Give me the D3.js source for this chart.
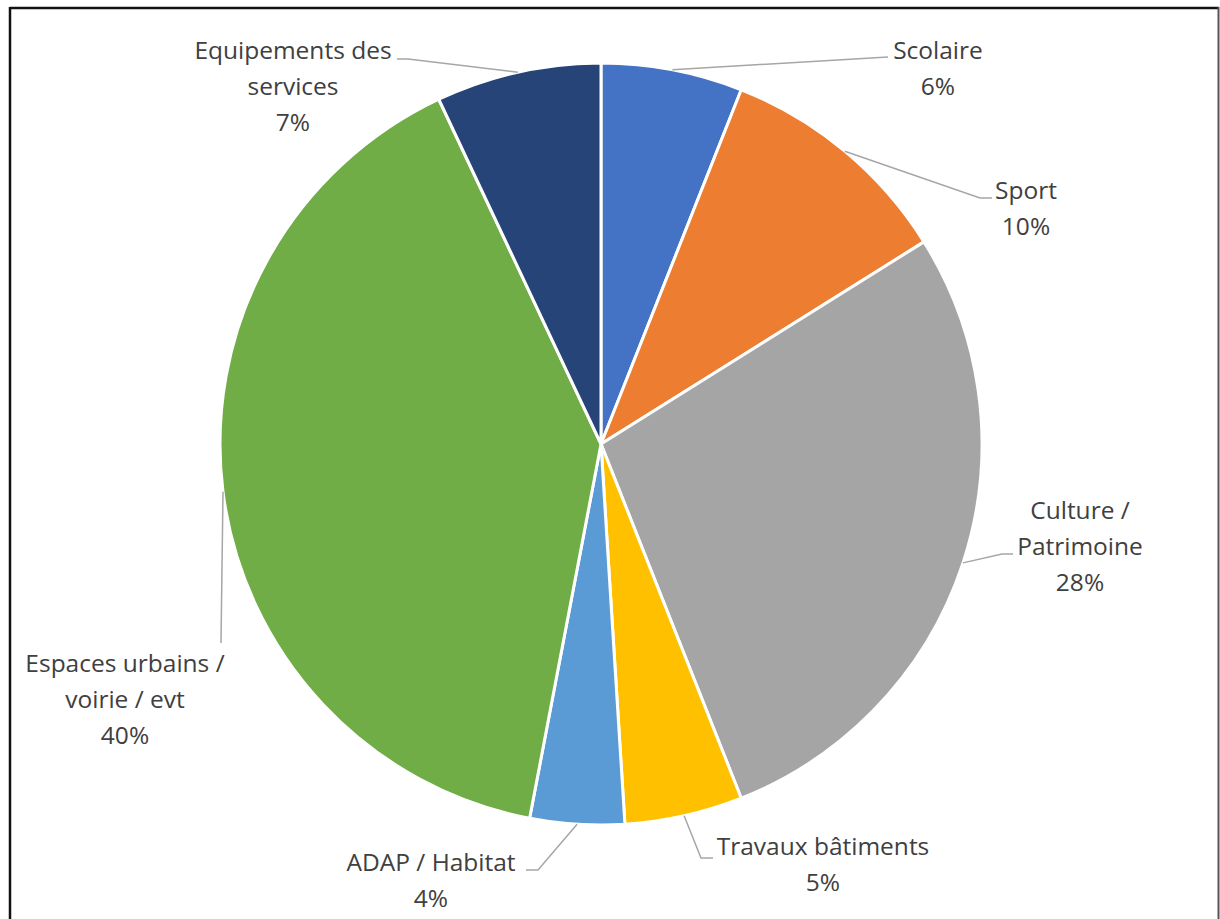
<!DOCTYPE html>
<html>
<head>
<meta charset="utf-8">
<script src="https://cdnjs.cloudflare.com/ajax/libs/d3/7.8.5/d3.min.js"></script>
<style>
    body { margin: 0; background: #fff; }
    .lbl { font-family: "Open Sans", "Noto Sans", sans-serif; font-size: 24.5px; fill: #404040; }
    .leader { fill: none; stroke: #a6a6a6; stroke-width: 1.5; }
</style>
</head>
<body>
<script>
//chart data
var categories = ["Scolaire", "Sport", "Culture / Patrimoine", "Travaux bâtiments", "ADAP / Habitat", "Espaces urbains / voirie / evt", "Equipements des services"];
var values = [6, 10.1, 27.9, 5, 4, 40, 7];
var pctLabels = ["6%", "10%", "28%", "5%", "4%", "40%", "7%"];

//label layout (lines, text anchor, elbow of leader)
var labelLayout = [
    {lines: ["Scolaire"], x: 938, y: 59, ex: 888, ey: 57, tx: 888},
    {lines: ["Sport"], x: 1026, y: 199, ex: 980, ey: 198, tx: 992},
    {lines: ["Culture /", "Patrimoine"], x: 1080, y: 519, ex: 1002, ey: 554, tx: 1013},
    {lines: ["Travaux bâtiments"], x: 823, y: 855, ex: 701, ey: 858, tx: 713},
    {lines: ["ADAP / Habitat"], x: 431, y: 871, ex: 538, ey: 870, tx: 526},
    {lines: ["Espaces urbains /", "voirie / evt"], x: 125, y: 672, ex: 221, ey: 643, tx: 221},
    {lines: ["Equipements des", "services"], x: 293, y: 59, ex: 408, ey: 59, tx: 397}
];

var colors = ["#4472c4", "#ed7d31", "#a5a5a5", "#ffc000", "#5b9bd5", "#70ad47", "#264478"];

function drawPie(){
    var width = 1220,
        height = 919;

    var svg = d3.select("body")
        .append("svg")
        .attr("width", width)
        .attr("height", height);

    //frame of the chart area
    svg.append("line").attr("x1", 10).attr("y1", 8).attr("x2", 1219).attr("y2", 8)
        .attr("stroke", "#111").attr("stroke-width", 2.5);
    svg.append("line").attr("x1", 10).attr("y1", 7).attr("x2", 10).attr("y2", height)
        .attr("stroke", "#111").attr("stroke-width", 2.5);
    svg.append("line").attr("x1", 1218.5).attr("y1", 7).attr("x2", 1218.5).attr("y2", height)
        .attr("stroke", "#555").attr("stroke-width", 2);

    var cx = 601, cy = 444, radius = 381;

    var pie = d3.pie().sort(null).value(function(d){ return d; });
    var arcs = pie(values);

    var arc = d3.arc().innerRadius(0).outerRadius(radius);

    var g = svg.append("g").attr("transform", "translate(" + cx + "," + cy + ")");

    g.selectAll(".slice")
        .data(arcs)
        .enter()
        .append("path")
        .attr("class", "slice")
        .attr("d", arc)
        .attr("fill", function(d, i){ return colors[i]; })
        .attr("stroke", "#fff")
        .attr("stroke-width", 3)
        .attr("stroke-linejoin", "round");

    //leader lines: from slice edge at mid angle to elbow, then to text
    svg.selectAll(".leader")
        .data(arcs)
        .enter()
        .append("polyline")
        .attr("class", "leader")
        .attr("points", function(d, i){
            var a = (d.startAngle + d.endAngle) / 2,
                L = labelLayout[i];
            var px = cx + radius * Math.sin(a),
                py = cy - radius * Math.cos(a);
            return [[px, py], [L.ex, L.ey], [L.tx, L.ey]].join(" ");
        });

    //labels
    var lineH = 36;
    var labels = svg.selectAll(".lbl")
        .data(arcs)
        .enter()
        .append("text")
        .attr("class", "lbl")
        .attr("text-anchor", "middle");

    labels.each(function(d, i){
        var L = labelLayout[i],
            t = d3.select(this),
            rows = L.lines.concat([pctLabels[i]]);
        rows.forEach(function(r, k){
            t.append("tspan")
                .attr("x", L.x)
                .attr("y", L.y + k * lineH)
                .text(r);
        });
    });
}

window.onload = drawPie;
</script>
</body>
</html>
